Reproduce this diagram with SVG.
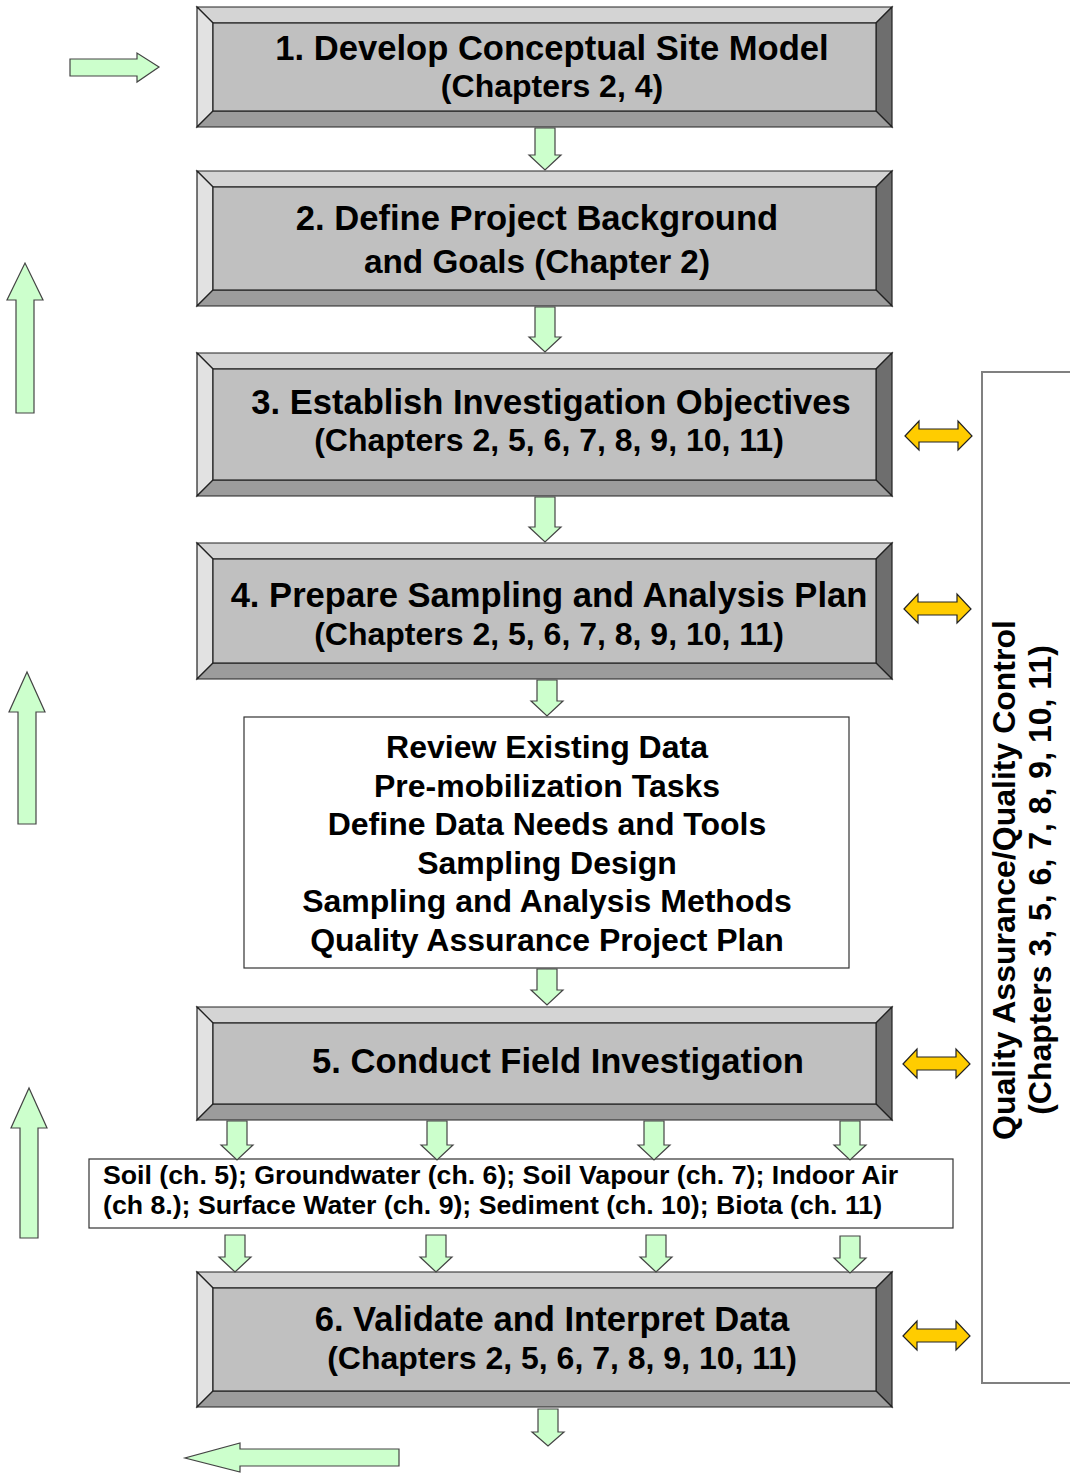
<svg xmlns="http://www.w3.org/2000/svg" width="1070" height="1474" viewBox="0 0 1070 1474">
<style>
.bt{fill:#d4d4d4;stroke:#222;stroke-width:1.2}
.bl{fill:#e2e2e2;stroke:#222;stroke-width:1.2}
.br{fill:#6e6e6e;stroke:#222;stroke-width:1.2}
.bb{fill:#9c9c9c;stroke:#222;stroke-width:1.2}
.bf{fill:#c0c0c0;stroke:#222;stroke-width:1.2}
.t{font-family:"Liberation Sans",Arial,sans-serif;font-weight:bold;fill:#000;text-anchor:middle}
.h1{font-size:34.6px}
.big{font-size:32px}
.mid{font-size:32px}
.sm{font-size:26.7px}
.g{fill:#ccffcc;stroke:#444;stroke-width:1.2}
.y{fill:#ffcc00;stroke:#222;stroke-width:1.2}
.wb{fill:#fff;stroke:#333;stroke-width:1.2}
</style>
<g id="box1">
<polygon class="bt" points="197,7 892,7 876,23 213,23"/>
<polygon class="bl" points="197,7 213,23 213,111 197,127"/>
<polygon class="br" points="892,7 892,127 876,111 876,23"/>
<polygon class="bb" points="197,127 892,127 876,111 213,111"/>
<rect class="bf" x="213" y="23" width="663" height="88"/>
<text class="t h1" x="552" y="60">1. Develop Conceptual Site Model</text>
<text class="t big" x="552" y="97">(Chapters 2, 4)</text>
</g>
<g id="box2">
<polygon class="bt" points="197,171 892,171 876,187 213,187"/>
<polygon class="bl" points="197,171 213,187 213,290 197,306"/>
<polygon class="br" points="892,171 892,306 876,290 876,187"/>
<polygon class="bb" points="197,306 892,306 876,290 213,290"/>
<rect class="bf" x="213" y="187" width="663" height="103"/>
<text class="t h1" x="537" y="230">2. Define Project Background</text>
<text class="t" style="font-size:33.3px" x="537" y="273">and Goals (Chapter 2)</text>
</g>
<g id="box3">
<polygon class="bt" points="197,353 892,353 876,369 213,369"/>
<polygon class="bl" points="197,353 213,369 213,480 197,496"/>
<polygon class="br" points="892,353 892,496 876,480 876,369"/>
<polygon class="bb" points="197,496 892,496 876,480 213,480"/>
<rect class="bf" x="213" y="369" width="663" height="111"/>
<text class="t h1" x="551" y="414">3. Establish Investigation Objectives</text>
<text class="t big" x="549" y="451">(Chapters 2, 5, 6, 7, 8, 9, 10, 11)</text>
</g>
<g id="box4">
<polygon class="bt" points="197,543 892,543 876,559 213,559"/>
<polygon class="bl" points="197,543 213,559 213,663 197,679"/>
<polygon class="br" points="892,543 892,679 876,663 876,559"/>
<polygon class="bb" points="197,679 892,679 876,663 213,663"/>
<rect class="bf" x="213" y="559" width="663" height="104"/>
<text class="t h1" x="549" y="607">4. Prepare Sampling and Analysis Plan</text>
<text class="t big" x="549" y="645">(Chapters 2, 5, 6, 7, 8, 9, 10, 11)</text>
</g>
<g id="review">
<rect class="wb" x="244" y="717" width="605" height="251"/>
<text class="t mid" x="547" y="758">Review Existing Data</text>
<text class="t mid" x="547" y="797">Pre-mobilization Tasks</text>
<text class="t mid" x="547" y="835">Define Data Needs and Tools</text>
<text class="t mid" x="547" y="874">Sampling Design</text>
<text class="t mid" x="547" y="912">Sampling and Analysis Methods</text>
<text class="t mid" x="547" y="951">Quality Assurance Project Plan</text>
</g>
<g id="box5">
<polygon class="bt" points="197,1007 892,1007 876,1023 213,1023"/>
<polygon class="bl" points="197,1007 213,1023 213,1104 197,1120"/>
<polygon class="br" points="892,1007 892,1120 876,1104 876,1023"/>
<polygon class="bb" points="197,1120 892,1120 876,1104 213,1104"/>
<rect class="bf" x="213" y="1023" width="663" height="81"/>
<text class="t h1" x="558" y="1073">5. Conduct Field Investigation</text>
</g>
<g id="media">
<rect class="wb" x="89" y="1159" width="864" height="69"/>
<text class="t sm" x="103" y="1184" style="text-anchor:start">Soil (ch. 5); Groundwater (ch. 6); Soil Vapour (ch. 7); Indoor Air</text>
<text class="t sm" x="103" y="1214" style="text-anchor:start">(ch 8.); Surface Water (ch. 9); Sediment (ch. 10); Biota (ch. 11)</text>
</g>
<g id="box6">
<polygon class="bt" points="197,1272 892,1272 876,1288 213,1288"/>
<polygon class="bl" points="197,1272 213,1288 213,1391 197,1407"/>
<polygon class="br" points="892,1272 892,1407 876,1391 876,1288"/>
<polygon class="bb" points="197,1407 892,1407 876,1391 213,1391"/>
<rect class="bf" x="213" y="1288" width="663" height="103"/>
<text class="t h1" x="552" y="1331">6. Validate and Interpret Data</text>
<text class="t big" x="562" y="1369">(Chapters 2, 5, 6, 7, 8, 9, 10, 11)</text>
</g>
<g id="qaqc">
<polyline points="1070,372 982,372 982,1383 1070,1383" fill="none" stroke="#808080" stroke-width="2"/>
<text class="t" style="font-size:32px" transform="translate(1015,880) rotate(-90)">Quality Assurance/Quality Control</text>
<text class="t" style="font-size:32px" transform="translate(1051,880) rotate(-90)">(Chapters 3, 5, 6, 7, 8, 9, 10, 11)</text>
</g>
<g id="connectors">
<polygon class="g" points="535,128 555,128 555,155 561,155 545,170 529,155 535,155"/>
<polygon class="g" points="535,307 555,307 555,337 561,337 545,352 529,337 535,337"/>
<polygon class="g" points="535,497 555,497 555,527 561,527 545,542 529,527 535,527"/>
<polygon class="g" points="537,680 557,680 557,701 563,701 547,716 531,701 537,701"/>
<polygon class="g" points="537,969 557,969 557,990 563,990 547,1005 531,990 537,990"/>
<polygon class="g" points="227,1121 247,1121 247,1145 253,1145 237,1160 221,1145 227,1145"/>
<polygon class="g" points="427,1121 447,1121 447,1145 453,1145 437,1160 421,1145 427,1145"/>
<polygon class="g" points="644,1121 664,1121 664,1145 670,1145 654,1160 638,1145 644,1145"/>
<polygon class="g" points="840,1121 860,1121 860,1145 866,1145 850,1160 834,1145 840,1145"/>
<polygon class="g" points="225,1235 245,1235 245,1257 251,1257 235,1272 219,1257 225,1257"/>
<polygon class="g" points="426,1235 446,1235 446,1257 452,1257 436,1272 420,1257 426,1257"/>
<polygon class="g" points="646,1235 666,1235 666,1257 672,1257 656,1272 640,1257 646,1257"/>
<polygon class="g" points="840,1236 860,1236 860,1258 866,1258 850,1273 834,1258 840,1258"/>
<polygon class="g" points="538,1409 558,1409 558,1432 564,1432 548,1446 532,1432 538,1432"/>
<polygon class="g" points="70,59 137,59 137,53 159,67 137,82 137,76 70,76"/>
<polygon class="g" points="16,413 16,300 7,300 25,263 43,300 34,300 34,413"/>
<polygon class="g" points="18,824 18,712 9,712 27,672 45,712 36,712 36,824"/>
<polygon class="g" points="20,1238 20,1128 11,1128 29,1088 47,1128 38,1128 38,1238"/>
<polygon class="g" points="399,1449 399,1466 240,1466 240,1472 185,1458 240,1443 240,1449"/>
<polygon class="y" points="905,436 919,421 919,429 958,429 958,421 972,436 958,450 958,442 919,442 919,450"/>
<polygon class="y" points="904,609 918,594 918,602 957,602 957,594 971,609 957,623 957,615 918,615 918,623"/>
<polygon class="y" points="903,1064 917,1049 917,1057 956,1057 956,1049 970,1064 956,1078 956,1070 917,1070 917,1078"/>
<polygon class="y" points="903,1336 917,1321 917,1329 956,1329 956,1321 970,1336 956,1350 956,1342 917,1342 917,1350"/>
</g>
</svg>
